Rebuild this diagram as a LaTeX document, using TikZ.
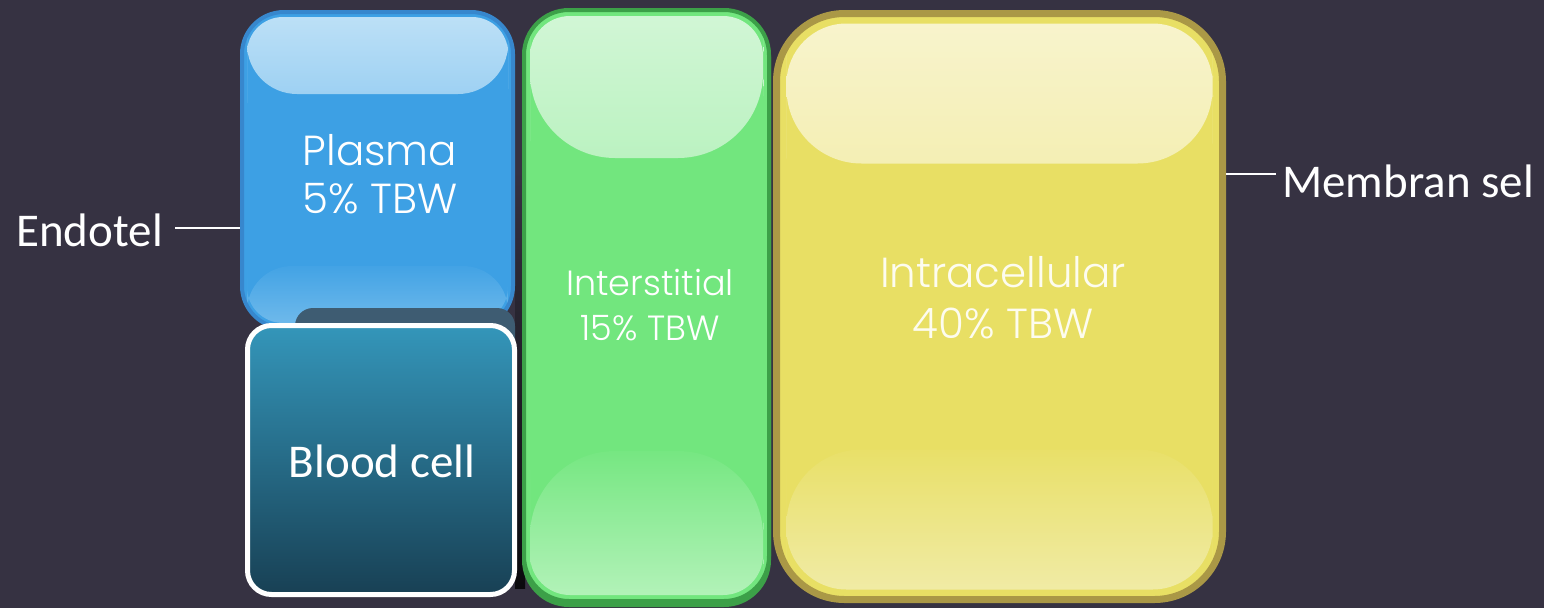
\documentclass[tikz,border=0pt]{standalone}
\usepackage{fontspec}
\setmainfont{Carlito}
\newfontfamily\gothic{Poppins}[UprightFont=* Light]
\usetikzlibrary{calc,positioning}

\definecolor{bgc}{RGB}{54,50,66}
\definecolor{plfill}{RGB}{61,160,228}
\definecolor{pledge}{RGB}{55,135,205}
\definecolor{plhi}{RGB}{190,225,247}
\definecolor{pllo}{RGB}{110,185,235}
\definecolor{plshade}{RGB}{62,92,114}
\definecolor{bctop}{RGB}{52,150,186}
\definecolor{bcbot}{RGB}{24,64,84}
\definecolor{intfill}{RGB}{114,230,126}
\definecolor{intedge}{RGB}{60,160,72}
\definecolor{inthi}{RGB}{210,246,214}
\definecolor{intlo}{RGB}{178,242,184}
\definecolor{icfill}{RGB}{232,223,100}
\definecolor{icedge}{RGB}{170,152,70}
\definecolor{ichi}{RGB}{248,244,206}
\definecolor{iclo}{RGB}{240,235,165}

% top gloss: inset, depth, corner radius, lower radius, light colour, fill
\newcommand\glosstop[6]{%
  \shade[top color=#5, bottom color=#6!97!white]
    ([shift={(#1,-#1-#3)}]path picture bounding box.north west) [rounded corners=#3]
    -- ([shift={(#1,-#1)}]path picture bounding box.north west)
    -- ([shift={(-#1,-#1)}]path picture bounding box.north east)
    -- ([shift={(-#1,-#1-#3)}]path picture bounding box.north east) [rounded corners=#4]
    -- ([shift={(-#1,-#2)}]path picture bounding box.north east)
    -- ([shift={(#1,-#2)}]path picture bounding box.north west) -- cycle;
}
% bottom gloss: inset, height, corner radius, upper radius, light colour, fill
\newcommand\glossbot[6]{%
  \shade[top color=#6!97!white, bottom color=#5]
    ([shift={(#1,#1+#3)}]path picture bounding box.south west) [rounded corners=#3]
    -- ([shift={(#1,#1)}]path picture bounding box.south west)
    -- ([shift={(-#1,#1)}]path picture bounding box.south east)
    -- ([shift={(-#1,#1+#3)}]path picture bounding box.south east) [rounded corners=#4]
    -- ([shift={(-#1,#2)}]path picture bounding box.south east)
    -- ([shift={(#1,#2)}]path picture bounding box.south west) -- cycle;
}

\tikzset{
  compartment/.style={rectangle, rounded corners=#1, inner sep=0pt, line width=4pt},
  boxtext/.style={text=white, align=center, inner sep=0pt},
  sidetext/.style={text=white, font=\fontsize{47}{56}\selectfont, inner sep=0pt},
  tick/.style={draw=white, line width=1.5pt}
}

\begin{document}
\begin{tikzpicture}[x=1pt,y=-1pt]
  \useasboundingbox (0,0) rectangle (1544,608);
  \fill[bgc] (0,0) rectangle (1544,608);

  % shadow left of interstitial
  \shade[top color=bgc, bottom color=black!80!bgc] (515,170) rectangle (525,588);

  % plasma
  \node[compartment=42pt, fill=plfill, draw=pledge, minimum width=271pt, minimum height=316pt,
    path picture={\glosstop{5pt}{82pt}{36pt}{50pt}{plhi}{plfill}
                  \glossbot{5pt}{62pt}{36pt}{45pt}{pllo}{plfill}}] (plasma) at (377.5,170) {};

  % shadow of blood cell on plasma
  \fill[plshade, rounded corners=18pt] (295,308) rectangle (515,400);

  % blood cell
  \node[compartment=24pt, draw=white, line width=5pt, top color=bctop, bottom color=bcbot,
    minimum width=267pt, minimum height=269pt] (blood) at (381,460) {};

  % interstitial
  \node[compartment=45pt, fill=intedge, draw=intedge, minimum width=245pt, minimum height=593pt]
    (interbase) at (646.5,308.5) {};
  \node[compartment=45pt, fill=intfill, draw=intedge, minimum width=245pt, minimum height=591pt,
    path picture={\glosstop{6pt}{148pt}{40pt}{85pt}{inthi}{intfill}
                  \glossbot{6pt}{150pt}{40pt}{85pt}{intlo}{intfill}}] (inter) at (646.5,305.5) {};

  % intracellular
  \node[compartment=68pt, fill=icfill, draw=icedge, line width=7pt, minimum width=446pt, minimum height=586pt,
    path picture={\glosstop{10pt}{150pt}{60pt}{75pt}{ichi}{icfill}
                  \glossbot{10pt}{150pt}{60pt}{75pt}{iclo}{icfill}}] (intra) at (999.5,306.5) {};

  % texts
  \node[boxtext, font=\gothic\fontsize{42}{48}\selectfont] (pltext) at (380,174) {Plasma\\5\% TBW};
  \node[boxtext, font=\fontsize{47}{56}\selectfont] (bctext) at (382,461) {Blood cell};
  \node[boxtext, font=\gothic\fontsize{35}{45}\selectfont] (inttext) at (650,305) {Interstitial\\15\% TBW};
  \node[boxtext, text=white!90!icfill, font=\gothic\fontsize{42}{51}\selectfont] (ictext) at (1003,298) {Intracellular\\40\% TBW};

  % side labels
  \node[sidetext, anchor=east] (endo) at (163,230) {Endotel};
  \coordinate (endotip) at ([shift={(12pt,2pt)}]endo.east);
  \draw[tick] (endotip) -- (endotip -| plasma.west);

  \node[sidetext, anchor=west] (mem) at (1282,181) {Membran sel};
  \coordinate (memtip) at ([shift={(-6pt,7pt)}]mem.west);
  \draw[tick] (memtip -| intra.east) -- (memtip);
\end{tikzpicture}
\end{document}
